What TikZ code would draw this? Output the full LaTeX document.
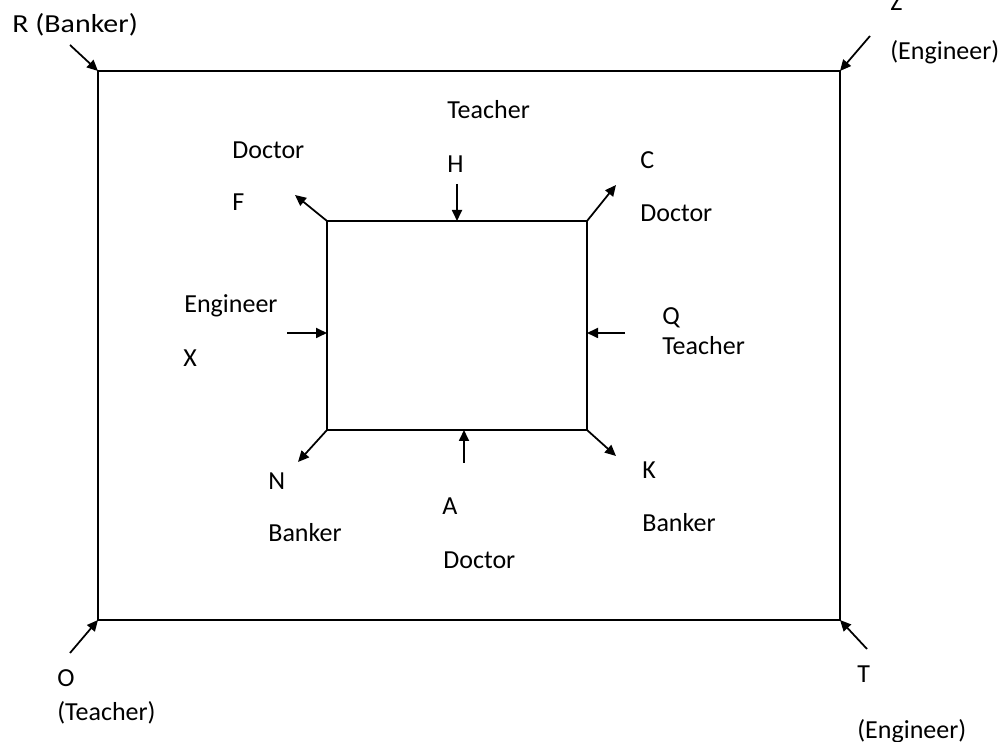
\documentclass[tikz,border=0pt]{standalone}
\usepackage{fontspec}
\setmainfont{Carlito}
\usetikzlibrary{arrows.meta}

\begin{document}
\begin{tikzpicture}[box_node/.style={draw,line width=1.1pt,inner sep=0pt,outer sep=0pt},
	lbl/.style={anchor=west,inner sep=0pt,text height=9.5pt,text depth=0pt,font=\fontsize{14.8}{17}\selectfont},
	pointer/.style={line width=1pt,-{Triangle[length=0.22cm,width=0.2cm]}}]
	\clip (0,0) rectangle (20,14.84);
	% the two frames
	\node[box_node,minimum width=14.84cm,minimum height=10.98cm] (outer) at (9.38,7.93) {};
	\node[box_node,minimum width=5.2cm,minimum height=4.18cm] (inner) at (9.14,8.33) {};
	% outer corners
	\node[lbl,xscale=1.15,transform shape] (r) at (0.24,14.36) {R (Banker)};
	\node[lbl] (z) at (17.8,14.79) {Z};
	\node[lbl] (z2) at (17.8,13.82) {(Engineer)};
	\node[lbl] (o) at (1.14,1.28) {O};
	\node[lbl] (o2) at (1.14,0.6) {(Teacher)};
	\node[lbl] (t) at (17.14,1.36) {T};
	\node[lbl] (t2) at (17.14,0.24) {(Engineer)};
	\coordinate (rt) at (1.4,13.94);
	\coordinate (zt) at (17.4,14.12);
	\coordinate (ot) at (1.4,1.78);
	\coordinate (tt) at (17.34,1.86);
	\draw[pointer] (rt) -- (outer.north west);
	\draw[pointer] (zt) -- (outer.north east);
	\draw[pointer] (ot) -- (outer.south west);
	\draw[pointer] (tt) -- (outer.south east);
	% inner side
	\node[lbl] (h2) at (8.94,12.64) {Teacher};
	\node[lbl] (h) at (8.94,11.56) {H};
	\node[lbl] (f2) at (4.64,11.84) {Doctor};
	\node[lbl] (f) at (4.64,10.8) {F};
	\node[lbl] (c) at (12.8,11.64) {C};
	\node[lbl] (c2) at (12.8,10.58) {Doctor};
	\node[lbl] (x2) at (3.68,8.76) {Engineer};
	\node[lbl] (x) at (3.66,7.68) {X};
	\node[lbl] (q) at (13.24,8.52) {Q};
	\node[lbl] (q2) at (13.24,7.92) {Teacher};
	\node[lbl] (n) at (5.36,5.22) {N};
	\node[lbl] (n2) at (5.36,4.18) {Banker};
	\node[lbl] (a) at (8.84,4.72) {A};
	\node[lbl] (a2) at (8.86,3.64) {Doctor};
	\node[lbl] (k) at (12.84,5.44) {K};
	\node[lbl] (k2) at (12.84,4.38) {Banker};
	\coordinate (ht) at (9.14,11.16);
	\coordinate (ft) at (5.9,10.94);
	\coordinate (ct) at (12.32,11.14);
	\coordinate (xt) at (5.74,8.18);
	\coordinate (qt) at (12.5,8.18);
	\coordinate (nt) at (5.96,5.6);
	\coordinate (at) at (9.28,5.58);
	\coordinate (kt) at (12.32,5.72);
	\draw[pointer] (ht) -- (inner.north);
	\draw[pointer] (inner.north west) -- (ft);
	\draw[pointer] (inner.north east) -- (ct);
	\draw[pointer] (xt) -- (xt -| inner.west);
	\draw[pointer] (qt) -- (qt -| inner.east);
	\draw[pointer] (inner.south west) -- (nt);
	\draw[pointer] (at) -- (at |- inner.south);
	\draw[pointer] (inner.south east) -- (kt);
\end{tikzpicture}
\end{document}
